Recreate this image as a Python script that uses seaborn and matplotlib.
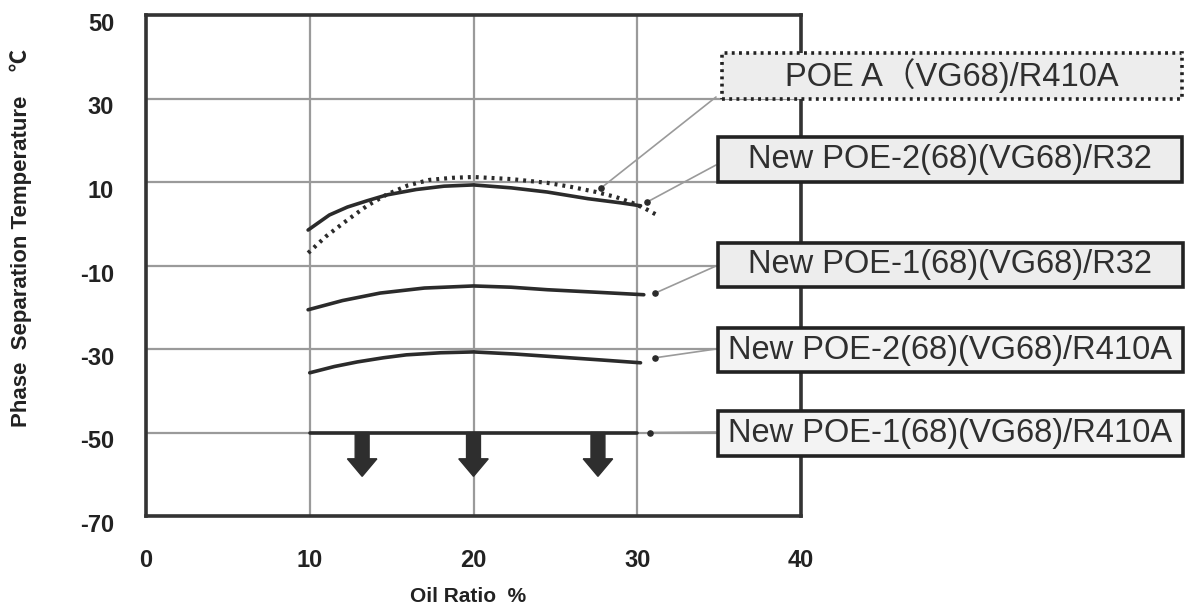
import numpy as np
import pandas as pd
import matplotlib
matplotlib.use("Agg")
import matplotlib.pyplot as plt
import matplotlib.transforms as mtransforms
from matplotlib.patches import Rectangle, FancyArrow
import seaborn as sns

# values (oil ratio %, separation temperature C)
oil_poe_a = [9.9, 11.0, 12.3, 13.5, 14.7, 16.0, 17.3, 18.7, 20.0, 22.3, 24.5, 26.0, 27.5, 28.7, 29.7, 30.5, 31.2]
temp_poe_a = [-7.0, -3.0, 0.9, 4.3, 7.0, 9.2, 10.5, 11.0, 11.2, 10.7, 9.8, 8.8, 7.6, 6.4, 5.0, 3.6, 2.1]

oil_new2_r32 = [9.9, 11.2, 12.3, 13.5, 14.7, 16.5, 18.2, 20.0, 22.3, 24.5, 27.0, 29.0, 30.2]
temp_new2_r32 = [-1.5, 2.1, 4.0, 5.5, 6.9, 8.2, 9.0, 9.3, 8.6, 7.6, 6.0, 5.0, 4.3]

oil_new1_r32 = [9.9, 12.0, 14.3, 17.0, 20.0, 22.3, 24.5, 27.5, 30.4]
temp_new1_r32 = [-20.6, -18.4, -16.6, -15.4, -14.9, -15.2, -15.8, -16.4, -17.0]

oil_new2_r410a = [10.0, 11.5, 12.9, 14.5, 15.9, 18.0, 20.0, 22.5, 25.1, 27.7, 30.2]
temp_new2_r410a = [-35.7, -34.2, -33.1, -32.1, -31.4, -30.9, -30.7, -31.2, -31.9, -32.6, -33.3]

oil_new1_r410a = [10.0, 20.0, 30.0]
temp_new1_r410a = [-50.0, -50.0, -50.0]

series_names = ["POE A（VG68)/R410A",
                "New POE-2(68)(VG68)/R32",
                "New POE-1(68)(VG68)/R32",
                "New POE-2(68)(VG68)/R410A",
                "New POE-1(68)(VG68)/R410A"]

# points on the curves where the label leader lines end
anchor_x = [27.8, 30.6, 31.1, 31.1, 30.8]
anchor_y = [8.6, 5.2, -16.6, -32.1, -50.0]

# "below -50" arrows
arrow_x = [13.2, 20.0, 27.6]
arrow_top = -50.0
arrow_tip = -60.5

xticks = [0, 10, 20, 30, 40]
yticks = [50, 30, 10, -10, -30, -50, -70]

frames = []
for name, xs, ys in zip(series_names,
                        [oil_poe_a, oil_new2_r32, oil_new1_r32, oil_new2_r410a, oil_new1_r410a],
                        [temp_poe_a, temp_new2_r32, temp_new1_r32, temp_new2_r410a, temp_new1_r410a]):
    frames.append(pd.DataFrame({"oil": xs, "temp": ys, "series": name}))
df = pd.concat(frames, ignore_index=True)

sns.set_style("white")
plt.rcParams['font.family'] = ['Liberation Sans', 'Noto Sans CJK JP', 'DejaVu Sans']

W, H = 1191, 611
fig = plt.figure(figsize=(W / 100, H / 100), dpi=100)
ax = fig.add_axes([146 / W, 1 - 516 / H, 655 / W, 501 / H])

ink = "#2b2b2b"
for i, name in enumerate(series_names):
    sub = df[df["series"] == name]
    if i == 0:
        sns.lineplot(data=sub, x="oil", y="temp", ax=ax, color=ink, lw=3.0,
                     linestyle=(0, (0.7, 1.2)), sort=False, estimator=None)
    else:
        sns.lineplot(data=sub, x="oil", y="temp", ax=ax, color=ink, lw=2.6,
                     sort=False, estimator=None)

for x in arrow_x:
    ax.add_patch(FancyArrow(x, arrow_top, 0, arrow_tip - arrow_top, width=0.85,
                            head_width=1.8, head_length=4.2, length_includes_head=True,
                            color="#2e2e2e", zorder=4))

ax.scatter(anchor_x, anchor_y, s=14, color=ink, zorder=5)

ax.set_xlim(0, 40)
ax.set_ylim(-70, 50)
ax.set_xticks(xticks)
ax.set_yticks(yticks)
ax.set_xticklabels([str(t) for t in xticks], fontsize=17, fontweight="bold", color="#222")
ax.set_yticklabels([str(t) for t in yticks], fontsize=17, fontweight="bold", color="#222")
ax.tick_params(length=0)
ax.tick_params(axis="x", pad=24)
ax.tick_params(axis="y", pad=23)
# y tick labels sit a little below their grid lines in the original
shift = mtransforms.ScaledTranslation(0, -7 / 100, fig.dpi_scale_trans)
for lab in ax.get_yticklabels():
    lab.set_transform(lab.get_transform() + shift)
ax.grid(True, color="#9a9a9a", lw=1.6)
ax.set_xlabel("")
ax.set_ylabel("")
for s in ax.spines.values():
    s.set_linewidth(2.6)
    s.set_color("#333")

fig.text(468 / W, 1 - 597 / H, "Oil Ratio  %", ha="center", va="center",
         fontsize=15, fontweight="bold", color="#222")
fig.text(21 / W, 1 - 238 / H, "Phase  Separation Temperature    ℃", ha="center", va="center",
         rotation=90, fontsize=16, fontweight="bold", color="#222")

# label boxes in pixel coordinates (left, top, right, bottom)
boxes = [(722, 53, 1182, 99), (718, 137, 1182, 182), (718, 243, 1183, 287),
         (718, 328, 1183, 372), (718, 411, 1183, 456)]
leader_end = [(716, 97), (716, 165), (716, 266), (716, 349), (716, 432)]

for i, (name, (l, t, r, b)) in enumerate(zip(series_names, boxes)):
    rect = Rectangle((l / W, 1 - b / H), (r - l) / W, (b - t) / H, transform=fig.transFigure,
                     facecolor="#ededed" if i < 3 else "#f3f3f3", edgecolor="#222",
                     lw=2.6, linestyle=(0, (0.8, 1.2)) if i == 0 else "-", clip_on=False)
    fig.patches.append(rect)
    fig.text((l + r) / 2 / W, 1 - (t + b) / 2 / H, name, ha="center", va="center",
             fontsize=23.5, color="#2f2f2f")
    ex, ey = leader_end[i]
    ax.annotate("", xy=(anchor_x[i], anchor_y[i]), xycoords="data",
                xytext=(ex / W, 1 - ey / H), textcoords="figure fraction",
                arrowprops=dict(arrowstyle="-", color="#9a9a9a", lw=1.2,
                                shrinkA=0, shrinkB=0), annotation_clip=False)

fig.savefig("out.png", dpi=100)
